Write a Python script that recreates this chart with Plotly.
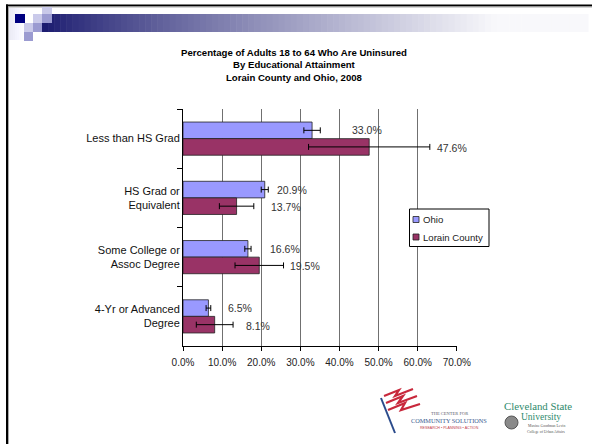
import plotly.graph_objects as go

# ---------------- data ----------------
categories = ["Less than HS Grad", "HS Grad or<br>Equivalent",
              "Some College or<br>Assoc Degree", "4-Yr or Advanced<br>Degree"]
series_names = ["Ohio", "Lorain County"]
ohio = [33.0, 20.9, 16.6, 6.5]
ohio_err = [2.1, 0.9, 0.8, 0.6]
lorain = [47.6, 13.7, 19.5, 8.1]
lorain_err = [15.5, 4.4, 6.2, 4.7]
x_ticks = [0, 10, 20, 30, 40, 50, 60, 70]
title_lines = ["Percentage of Adults 18 to 64 Who Are Uninsured",
               "By Educational Attainment", "Lorain County and Ohio, 2008"]

# gap (px) between the end of each error bar and its value label
ohio_label_gap = [30, 7, 17, 15]
lorain_label_gap = [5, 15, 4, 11]

colors = ["#9999FF", "#993366"]

# ---------------- geometry helpers ----------------
W_FIG, H_FIG = 592, 444
L, T, R, B = 183, 109, 135, 98
PW, PH = W_FIG - L - R, H_FIG - T - B


def px(x):
    return (x - L) / PW


def py(y):
    return 1 - (y - T) / PH


fig = go.Figure()
fig.add_trace(go.Bar(
    name=series_names[0], y=categories, x=ohio, orientation="h",
    marker=dict(color=colors[0], line=dict(color="#222222", width=0.8)),
    error_x=dict(type="data", array=ohio_err, color="black", thickness=1, width=3),
))
fig.add_trace(go.Bar(
    name=series_names[1], y=categories, x=lorain, orientation="h",
    marker=dict(color=colors[1], line=dict(color="#222222", width=0.8)),
    error_x=dict(type="data", array=lorain_err, color="black", thickness=1, width=3),
))

annotations = []
lab_font = dict(family="Liberation Sans, Arial, sans-serif", size=10.5, color="#333333")
for i, c in enumerate(categories):
    annotations.append(dict(x=ohio[i] + ohio_err[i], y=i - 0.14, xref="x", yref="y",
                            text=f"{ohio[i]:.1f}%", showarrow=False, xanchor="left",
                            yanchor="middle", xshift=ohio_label_gap[i], font=lab_font))
    annotations.append(dict(x=lorain[i] + lorain_err[i], y=i + 0.14, xref="x", yref="y",
                            text=f"{lorain[i]:.1f}%", showarrow=False, xanchor="left",
                            yanchor="middle", xshift=lorain_label_gap[i], yshift=-1,
                            font=lab_font))

# title
annotations.append(dict(
    x=px(294), y=py(45), xref="paper", yref="paper", xanchor="center", yanchor="top",
    text="<b>" + "<br>".join(title_lines) + "</b>", showarrow=False, align="center",
    font=dict(family="Liberation Sans Narrow, Arial Narrow, Liberation Sans, sans-serif",
              size=9.6, color="black"),
))

shapes = []


def rect(x0, y0, x1, y1, color, line=None):
    shapes.append(dict(type="rect", xref="paper", yref="paper", x0=px(x0), x1=px(x1),
                       y0=py(y1), y1=py(y0), fillcolor=color,
                       line=line if line else dict(width=0)))


def text(xc, yc, s, font, anchor="center"):
    annotations.append(dict(x=px(xc), y=py(yc), xref="paper", yref="paper", text=s,
                            xanchor=anchor, yanchor="middle", showarrow=False, font=font))


# ---- legend box (Excel style) ----
rect(409.5, 209, 489, 246.5, "white", dict(color="black", width=1))
leg_font = dict(family="Liberation Sans, Arial, sans-serif", size=9.6, color="#222222")
for k, (nm, col) in enumerate(zip(series_names, colors)):
    yc = 219.5 + k * 17.5
    rect(413, yc - 3, 419, yc + 3, col, dict(color="#222222", width=0.8))
    text(421, yc, nm, leg_font, anchor="left")

# logo texts (approximations)
serif = "Liberation Serif, serif"
text(449, 413, "THE CENTER FOR", dict(family=serif, size=4.5, color="#5a5a6a"))
text(449, 420.5, "COMMUNITY SOLUTIONS", dict(family=serif, size=6.3, color="#3b5b8f"))
text(449, 428, "RESEARCH • PLANNING • ACTION",
     dict(family="Liberation Sans, sans-serif", size=3.6, color="#c03848"))
text(538, 406, "Cleveland State", dict(family=serif, size=10.8, color="#2e8a6c"))
text(541, 417, "University", dict(family=serif, size=9.5, color="#2e8a6c"))
text(546, 425.5, "Maxine Goodman Levin", dict(family=serif, size=3.8, color="#555555"))
text(546, 431.5, "College of Urban Affairs", dict(family=serif, size=3.8, color="#555555"))

# slide border lines
shapes.append(dict(type="line", xref="paper", yref="paper", x0=px(6), x1=px(592),
                   y0=py(5.5), y1=py(5.5), line=dict(color="black", width=2)))
shapes.append(dict(type="line", xref="paper", yref="paper", x0=px(6), x1=px(592),
                   y0=py(7), y1=py(7), line=dict(color="#aaaaaa", width=1)))
shapes.append(dict(type="line", xref="paper", yref="paper", x0=px(7), x1=px(7),
                   y0=py(4.5), y1=py(444), line=dict(color="black", width=2)))
shapes.append(dict(type="line", xref="paper", yref="paper", x0=px(8.5), x1=px(8.5),
                   y0=py(7), y1=py(444), line=dict(color="#aaaaaa", width=1)))

# faint left gradient
for k in range(8):
    v = int(236 + k * 2.4)
    rect(9 + k * 2, 8, 11 + k * 2, 40, f"rgb({v},{v},{min(255, v + 10)})")

# header gradient bar
x_start, x_end, n = 42, 588, 90
for k in range(n):
    x0 = x_start + (x_end - x_start) * k / n
    x1 = x_start + (x_end - x_start) * (k + 1) / n + 0.6
    t = min(1.0, ((x0 - x_start) / 450.0))
    t = t ** 0.85
    r = int(28 + (248 - 28) * t)
    g = int(28 + (248 - 28) * t)
    b = int(112 + (251 - 112) * t)
    rect(x0, 14, x1, 32, f"rgb({r},{g},{b})")

# squares
rect(42, 7, 52, 14, "#c9c9e9")
rect(15, 14, 25, 23, "#000080")
rect(33, 14, 42, 23, "#cacaea")
rect(42, 14, 52, 23, "#9b9bd1")
rect(24, 23, 33, 32, "#cacaea")
rect(33, 23, 42, 32, "#9b9bd1")
rect(24, 32, 33, 41, "#9b9bd1")


def path(points, color, width):
    d = "M " + " L ".join(f"{px(a):.4f},{py(b):.4f}" for a, b in points)
    shapes.append(dict(type="path", xref="paper", yref="paper", path=d,
                       line=dict(color=color, width=width)))


# flag logo
path([(381, 398), (395, 433)], "#2b4b8b", 2)
path([(384, 396), (399, 390), (395, 396), (413, 389)], "#c8283c", 2.2)
path([(386, 403), (403, 396), (398, 403), (417, 396)], "#c8283c", 2.2)
path([(388, 410), (405, 403), (401, 410), (420, 404)], "#c8283c", 2.2)
# seal
shapes.append(dict(type="circle", xref="paper", yref="paper", x0=px(505), x1=px(518),
                   y0=py(429), y1=py(416), fillcolor="#8a8a8a", line=dict(color="#555555", width=1)))

fig.update_layout(
    width=W_FIG, height=H_FIG,
    margin=dict(l=L, r=R, t=T, b=B, pad=0),
    paper_bgcolor="white", plot_bgcolor="white",
    barmode="group", bargap=0.44, bargroupgap=0,
    showlegend=False,
    xaxis=dict(range=[0, 70.05], tickvals=x_ticks, ticktext=[f"{v:.1f}%" for v in x_ticks],
               showgrid=True, gridcolor="#707070", gridwidth=1,
               showline=True, linecolor="black", linewidth=1,
               ticks="outside", ticklen=4, tickcolor="black", ticklabelstandoff=3,
               tickfont=dict(family="Liberation Sans, Arial, sans-serif", size=10, color="#222222"),
               zeroline=False, fixedrange=True),
    yaxis=dict(type="category", categoryorder="array", categoryarray=categories,
               autorange="reversed", showgrid=False, zeroline=False,
               showline=True, linecolor="black", linewidth=1,
               ticks="outside", ticklen=5, tickcolor="black", tickson="boundaries",
               tickfont=dict(family="Liberation Sans, Arial, sans-serif", size=11, color="#111111"),
               fixedrange=True),
    annotations=annotations,
    shapes=shapes,
)

fig.write_html("out.html", config={"displayModeBar": False},
               post_script="document.body.style.margin='0';")
